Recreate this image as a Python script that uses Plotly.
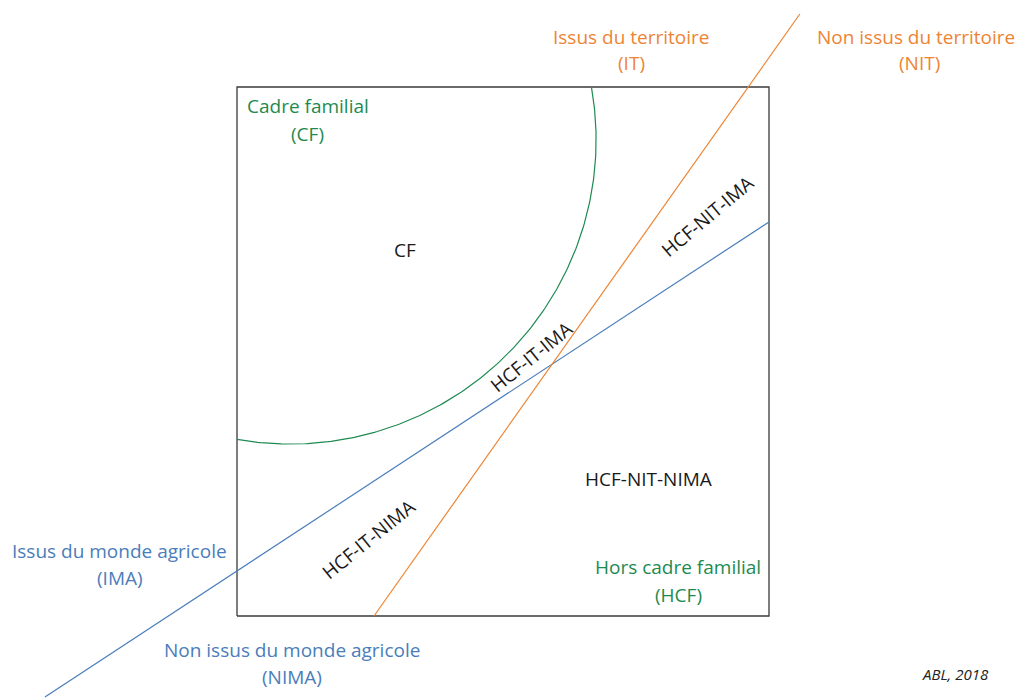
import numpy as np
import plotly.graph_objects as go

# Diagram coordinates: the square frame spans [0,10] x [0,10]
frame_x = [0, 10, 10, 0, 0]
frame_y = [0, 0, 10, 10, 0]

# IMA / NIMA separator (blue)
ima_line_x = [-3.61, 10.0]
ima_line_y = [-1.53, 7.45]

# IT / NIT separator (orange)
it_line_x = [2.575, 10.58]
it_line_y = [0.0, 11.38]

# Cadre familial circle (green): centre and radius, arc visible inside frame
cf_center = (1.0, 9.0)
cf_radius = 5.75
cf_arc_deg = (10.0, -100.0)

BLUE = "#4A7DBA"
ORANGE = "#EE8433"
GREEN = "#1E8A50"
DARK = "#1a1a1a"
FONT = "Open Sans"
FS = 19

fig = go.Figure()

fig.add_trace(go.Scatter(x=frame_x, y=frame_y, mode="lines",
                         line=dict(color="#3a3a3a", width=1.3), hoverinfo="skip"))

th = np.radians(np.linspace(cf_arc_deg[0], cf_arc_deg[1], 200))
fig.add_trace(go.Scatter(x=cf_center[0] + cf_radius * np.cos(th),
                         y=cf_center[1] + cf_radius * np.sin(th),
                         mode="lines", line=dict(color=GREEN, width=1.2), hoverinfo="skip"))
fig.add_trace(go.Scatter(x=ima_line_x, y=ima_line_y, mode="lines",
                         line=dict(color=BLUE, width=1.2), hoverinfo="skip"))
fig.add_trace(go.Scatter(x=it_line_x, y=it_line_y, mode="lines",
                         line=dict(color=ORANGE, width=1.2), hoverinfo="skip"))

labels = [
    ("Issus du territoire", 7.41, 10.945, ORANGE, 0),
    ("(IT)", 7.41, 10.45, ORANGE, 0),
    ("Non issus du territoire", 12.76, 10.945, ORANGE, 0),
    ("(NIT)", 12.82, 10.45, ORANGE, 0),
    ("Cadre familial", 1.33, 9.64, GREEN, 0),
    ("(CF)", 1.33, 9.11, GREEN, 0),
    ("CF", 3.16, 6.92, DARK, 0),
    ("HCF-IT-IMA", 5.53, 4.90, DARK, -39),
    ("HCF-NIT-IMA", 8.85, 7.56, DARK, -40),
    ("HCF-IT-NIMA", 2.48, 1.46, DARK, -39),
    ("HCF-NIT-NIMA", 7.74, 2.59, DARK, 0),
    ("Hors cadre familial", 8.29, 0.93, GREEN, 0),
    ("(HCF)", 8.29, 0.40, GREEN, 0),
    ("Issus du monde agricole", -2.20, 1.23, BLUE, 0),
    ("(IMA)", -2.20, 0.72, BLUE, 0),
    ("Non issus du monde agricole", 1.03, -0.64, BLUE, 0),
    ("(NIMA)", 1.03, -1.15, BLUE, 0),
]
for text, x, y, col, ang in labels:
    fig.add_annotation(x=x, y=y, text=text, showarrow=False, textangle=ang,
                       font=dict(family=FONT, size=FS, color=col),
                       xanchor="center", yanchor="middle")

fig.add_annotation(x=13.50, y=-1.10, text="<i>ABL, 2018</i>", showarrow=False,
                   font=dict(family=FONT, size=15, color="#222222"),
                   xanchor="center", yanchor="middle")

# page offset compensation (body margin of the html page)
OFF = 8
W, H = 1025 - OFF, 700 - OFF
PX_X, PX_Y = 53.2, 52.9
BOX_L, BOX_B = 237 - OFF, 616 - OFF

fig.update_layout(
    width=W, height=H,
    margin=dict(l=0, r=0, t=0, b=0),
    paper_bgcolor="white", plot_bgcolor="white",
    showlegend=False,
    xaxis=dict(range=[-BOX_L / PX_X, (W - BOX_L) / PX_X], visible=False, fixedrange=True),
    yaxis=dict(range=[(BOX_B - H) / PX_Y, BOX_B / PX_Y], visible=False, fixedrange=True),
)

fig.write_html("out.html")
